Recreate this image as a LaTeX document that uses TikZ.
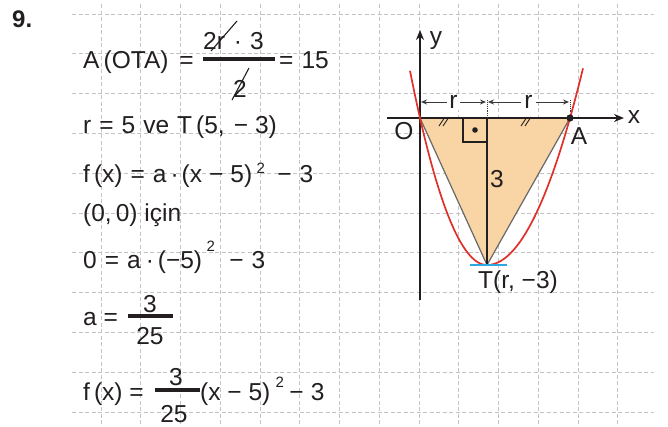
\documentclass[tikz,border=0pt]{standalone}
\usepackage{fontspec}
\setmainfont{Liberation Sans}
\usetikzlibrary{arrows.meta}
\definecolor{txt}{HTML}{231F20}
\definecolor{gridc}{HTML}{C4C4C4}
\definecolor{fillc}{HTML}{F9D4A4}
\definecolor{redc}{HTML}{E0302A}
\definecolor{bluec}{HTML}{2AA8E0}
\definecolor{edgec}{HTML}{686868}
\definecolor{dimc}{HTML}{3A3A3A}
\begin{document}
\begin{tikzpicture}[x=1pt,y=-1pt,
  every node/.style={font=\fontsize{24.5}{28}\selectfont, inner sep=0pt, text=txt},
  tw/.style={anchor=base west},
  tc/.style={anchor=base},
  supw/.style={anchor=base west, font=\fontsize{15}{18}\selectfont},
  lbl/.style={anchor=center},
  gridline/.style={draw=gridc, dash pattern=on 4pt off 2.5pt, line width=0.9pt},
  fracbar/.style={draw=txt, line width=3.2pt},
  cancelline/.style={draw=txt, line width=1.1pt},
  axis/.style={draw=txt, line width=1.4pt, -{Stealth[length=10pt,width=8pt]}},
  dimline/.style={draw=dimc, line width=1pt},
  dimtip/.style={{Stealth[length=6pt,width=5pt]}-{Stealth[length=6pt,width=5pt]}},
  para/.style={draw=redc, line width=1.7pt},
  triedge/.style={draw=edgec, line width=1.2pt},
  tickmark/.style={draw=txt, line width=0.9pt},
]
\useasboundingbox (0,0) rectangle (668,426);
% grid
\foreach \i in {0,...,13} \draw[gridline] ({101+39.75*\i},4) -- ({101+39.75*\i},426);
\foreach \j in {0,...,10} \draw[gridline] (72,{14+39.8*\j}) -- (654,{14+39.8*\j});

% problem number
\node[tw, font=\fontsize{24}{28}\selectfont\bfseries] (num) at (12,27) {9.};

% line 1
\node[tw] (l1a) at (83,68) {A\,(OTA)\hspace{11pt}=};
\node[tw] (n1) at (203,49) {2r\hspace{9pt}·\hspace{8pt}3};
\node[tc] (d1) at (240,97) {2};
\coordinate (b1l) at (203,59);
\coordinate (b1r) at (275,59);
\draw[fracbar] (b1l) -- (b1r);
\coordinate (c1a) at (211,51);
\coordinate (c1b) at (237,21);
\draw[cancelline] (c1a) -- (c1b);
\coordinate (c2a) at (232,100);
\coordinate (c2b) at (249,68);
\draw[cancelline] (c2a) -- (c2b);
\node[tw] (l1b) at (279,68) {=\hspace{8pt}15};

% line 2
\node[tw] (l2) at (83,133) {r\hspace{8pt}=\hspace{8pt}5\hspace{8pt}ve\hspace{8pt}T\,(5,\hspace{9pt}−\hspace{7pt}3)};

% line 3
\node[tw] (l3a) at (83,182) {f\,(x)\hspace{8pt}=\hspace{8pt}a\hspace{4pt}·\hspace{3pt}(x\hspace{7pt}−\hspace{7pt}5)};
\node[supw] (l3s) at ([xshift=4pt,yshift=9pt]l3a.base east) {2};
\node[tw] (l3b) at ([xshift=12pt,yshift=-9pt]l3s.base east) {−\hspace{8pt}3};

% line 4
\node[tw] (l4) at (83,221) {(0,\,0) için};

% line 5
\node[tw] (l5a) at (83,268) {0\hspace{8pt}=\hspace{8pt}a\hspace{5pt}·\hspace{4pt}(−5)};
\node[supw] (l5s) at ([xshift=4pt,yshift=17pt]l5a.base east) {2};
\node[tw] (l5b) at ([xshift=14pt,yshift=-17pt]l5s.base east) {−\hspace{8pt}3};

% line 6
\node[tw] (l6a) at (83,325) {a =};
\coordinate (b6l) at (128,316);
\coordinate (b6r) at (173,316);
\draw[fracbar] (b6l) -- (b6r);
\node[tc] (n6) at (150,312) {3};
\node[tc] (d6) at (150,344) {25};

% line 7
\node[tw] (l7a) at (83,400) {f\,(x) =};
\coordinate (b7l) at (155,390);
\coordinate (b7r) at (200,390);
\draw[fracbar] (b7l) -- (b7r);
\node[tc] (n7) at (176,385) {3};
\node[tc] (d7) at (174,422) {25};
\node[tw] (l7b) at (200,400) {(x − 5)};
\node[supw] (l7s) at ([xshift=5pt,yshift=13pt]l7b.base east) {2};
\node[tw] (l7c) at ([xshift=5pt,yshift=-13pt]l7s.base east) {−\hspace{7pt}3};

% graph
\coordinate (O) at (420,118);
\coordinate (A) at (570,118);
\coordinate (T) at (487,265);
\coordinate (M) at (487,118);
\fill[fillc] (O) -- (A) -- (T) -- cycle;
\draw[triedge] (O) -- (T) -- (A);
\draw[txt, line width=1.4pt] (M) -- (T);
% right angle
\coordinate (R1) at (463,118);
\coordinate (R2) at (463,142);
\coordinate (R3) at (487,142);
\draw[txt, line width=1.2pt] (R1) -- (R2) -- (R3);
\fill[txt] (475,130) circle (2.8);
% axes
\coordinate (yb) at (420,300);
\coordinate (yt) at (420,30);
\coordinate (xl) at (387,118);
\coordinate (xr) at (624,118);
\draw[axis] (yb) -- (yt);
\draw[axis] (xl) -- (xr);
\node[lbl] (ylab) at (436,41) {y};
\node[lbl] (xlab) at (634,117) {x};
% parabola
\draw[para] plot[domain=410:487,samples=50,smooth] (\x,{265-147*((\x-487)/67)*((\x-487)/67)});
\draw[para] plot[domain=487:583,samples=50,smooth] (\x,{265-147*((\x-487)/83)*((\x-487)/83)});
% tangent
\coordinate (tl) at (470,265);
\coordinate (tr) at (507,265);
\draw[draw=bluec, line width=2.2pt] (tl) -- (tr);
% point A
\fill[txt] (A) circle (3.6);
% dimension lines
\coordinate (d1l) at (421,102);
\coordinate (d1r) at (486,102);
\coordinate (d2l) at (488,102);
\coordinate (d2r) at (569,102);
\draw[dimline, dimtip] (d1l) -- node[fill=white, inner xsep=2pt, inner ysep=1pt] (r1) {r} (d1r);
\draw[dimline, dimtip] (d2l) -- node[fill=white, inner xsep=3pt, inner ysep=1pt] (r2) {r} (d2r);
\coordinate (m1) at (487,100);
\draw[dimc, line width=0.9pt, densely dotted] (m1) -- (M);
\coordinate (a1) at (570,100);
\coordinate (a2) at (570,112);
\draw[dimc, line width=0.9pt, densely dotted] (a1) -- (a2);
% equal ticks
\draw[tickmark] (439,126) -- (445,117) (443,126) -- (449,117);
\draw[tickmark] (521,126) -- (527,117) (525,126) -- (531,117);
% labels
\node[lbl] (Olab) at (404,131) {O};
\node[lbl] (Alab) at (579,136) {A};
\node[lbl] (lab3) at (497,179) {3};
\node[lbl] (Tlab) at (518,282) {T(r, −3)};
\end{tikzpicture}
\end{document}
